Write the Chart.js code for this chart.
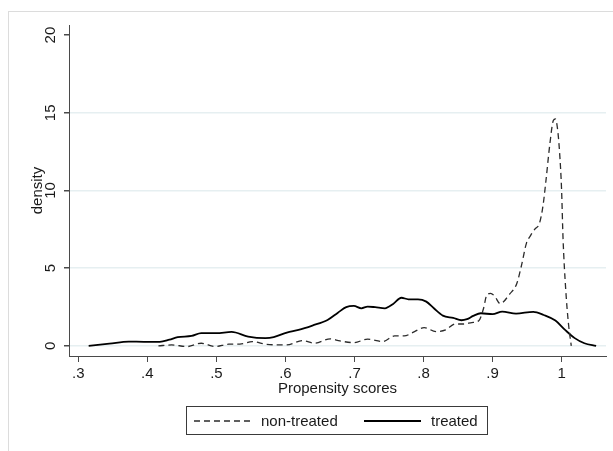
<!DOCTYPE html>
<html>
<head>
<meta charset="utf-8">
<script src="https://cdn.jsdelivr.net/npm/chart.js@4.4.1/dist/chart.umd.min.js"></script>
<style>
  html, body { margin: 0; padding: 0; background: #fff; }
  #wrap { width: 613px; height: 451px; position: relative; }
</style>
</head>
<body>
<div id="wrap"><canvas id="c" width="613" height="451"></canvas></div>
<script>
// Kernel density of propensity scores, by treatment group
const treatedX = [0.315, 0.345, 0.373, 0.395, 0.418, 0.432, 0.444, 0.464, 0.478, 0.500,
                  0.522, 0.546, 0.571, 0.583, 0.602, 0.619, 0.639, 0.661, 0.676, 0.688,
                  0.699, 0.710, 0.719, 0.730, 0.744, 0.756, 0.768, 0.778, 0.792, 0.804,
                  0.815, 0.828, 0.843, 0.855, 0.863, 0.872, 0.883, 0.900, 0.914, 0.934,
                  0.959, 0.974, 0.991, 1.005, 1.019, 1.033, 1.050];
const treatedY = [0.00, 0.14, 0.28, 0.26, 0.26, 0.40, 0.56, 0.64, 0.82, 0.82,
                  0.90, 0.60, 0.50, 0.56, 0.86, 1.03, 1.31, 1.67, 2.14, 2.49,
                  2.57, 2.42, 2.53, 2.49, 2.42, 2.70, 3.10, 3.00, 3.00, 2.85,
                  2.42, 1.95, 1.80, 1.65, 1.72, 1.93, 2.10, 2.04, 2.21, 2.08,
                  2.19, 1.99, 1.63, 1.03, 0.50, 0.17, 0.00];

const nonTreatedX = [0.416, 0.435, 0.458, 0.478, 0.498, 0.518, 0.534, 0.552, 0.571, 0.602,
                     0.625, 0.642, 0.665, 0.679, 0.699, 0.719, 0.741, 0.758, 0.772, 0.787,
                     0.801, 0.818, 0.832, 0.846, 0.858, 0.870, 0.880, 0.887, 0.891, 0.897,
                     0.903, 0.911, 0.925, 0.935, 0.942, 0.949, 0.955, 0.961, 0.968, 0.973,
                     0.977, 0.983, 0.988, 0.991, 0.994, 0.997, 1.000, 1.002, 1.006, 1.010,
                     1.014];
const nonTreatedY = [0.00, 0.06, -0.04, 0.17, -0.04, 0.11, 0.11, 0.28, 0.11, 0.06,
                     0.34, 0.17, 0.45, 0.32, 0.21, 0.43, 0.28, 0.64, 0.64, 0.92,
                     1.18, 0.92, 1.03, 1.41, 1.41, 1.50, 1.62, 2.42, 3.20, 3.38,
                     3.20, 2.72, 3.35, 4.00, 5.20, 6.60, 7.10, 7.50, 7.90, 9.00,
                     10.50, 13.00, 14.50, 14.60, 14.00, 12.50, 10.00, 7.00, 3.60, 1.40,
                     0.00];

const xTickValues = [0.3, 0.4, 0.5, 0.6, 0.7, 0.8, 0.9, 1.0];
const xTickLabels = ['.3', '.4', '.5', '.6', '.7', '.8', '.9', '1'];
const yTickValues = [0, 5, 10, 15, 20];
const yTickLabels = ['0', '5', '10', '15', '20'];

const seriesNames = ['non-treated', 'treated'];

const toPoints = (xs, ys) => xs.map((x, i) => ({ x: x, y: ys[i] }));

const FONT = "'Liberation Sans', Arial, sans-serif";
const INK = '#1a1a1a';
const AXIS = '#4a4a4a';
const GRID = '#e6eff1';

// White page with a faint outer frame
const framePlugin = {
  id: 'frame',
  beforeDraw(chart) {
    const ctx = chart.ctx;
    ctx.save();
    ctx.fillStyle = '#fff';
    ctx.fillRect(0, 0, chart.width, chart.height);
    ctx.strokeStyle = '#dcdcdc';
    ctx.lineWidth = 1;
    ctx.strokeRect(8.5, 11.5, chart.width + 20, chart.height + 20);
    ctx.restore();
  }
};

// Boxed legend under the x-axis title
const boxLegendPlugin = {
  id: 'boxLegend',
  afterDraw(chart) {
    const ctx = chart.ctx;
    const ds = chart.data.datasets;
    const box = { x: 186.5, y: 406.5, w: 301, h: 28 };
    const cy = box.y + box.h / 2 + 0.5;
    ctx.save();
    ctx.strokeStyle = '#3a3a3a';
    ctx.lineWidth = 1;
    ctx.strokeRect(box.x, box.y, box.w, box.h);

    const items = [
      { ds: ds[0], x0: 194, x1: 250, tx: 261 },
      { ds: ds[1], x0: 364, x1: 421, tx: 431 }
    ];
    ctx.font = '15px ' + FONT;
    ctx.textBaseline = 'middle';
    ctx.textAlign = 'left';
    items.forEach(it => {
      ctx.beginPath();
      ctx.setLineDash(it.ds.borderDash || []);
      ctx.strokeStyle = it.ds.borderColor;
      ctx.lineWidth = it.ds.borderWidth;
      ctx.moveTo(it.x0, cy);
      ctx.lineTo(it.x1, cy);
      ctx.stroke();
      ctx.setLineDash([]);
      ctx.fillStyle = INK;
      ctx.fillText(it.ds.label, it.tx, cy + 1);
    });
    ctx.restore();
  }
};

new Chart(document.getElementById('c'), {
  type: 'line',
  data: {
    datasets: [
      {
        label: seriesNames[0],
        data: toPoints(nonTreatedX, nonTreatedY),
        borderColor: '#2b2b2b',
        borderWidth: 1.3,
        borderDash: [6, 4],
        pointRadius: 0,
        fill: false,
        cubicInterpolationMode: 'monotone'
      },
      {
        label: seriesNames[1],
        data: toPoints(treatedX, treatedY),
        borderColor: '#000',
        borderWidth: 1.8,
        pointRadius: 0,
        fill: false,
        cubicInterpolationMode: 'monotone'
      }
    ]
  },
  options: {
    responsive: false,
    animation: false,
    events: [],
    layout: { padding: { top: 25, right: 7, bottom: 0, left: 0 } },
    plugins: {
      legend: { display: false },
      tooltip: { enabled: false }
    },
    scales: {
      x: {
        type: 'linear',
        min: 0.2865,
        max: 1.0643,
        afterFit(scale) { scale.height = 95; },
        afterBuildTicks(scale) { scale.ticks = xTickValues.map(v => ({ value: v })); },
        border: { display: true, color: AXIS, width: 1 },
        grid: { display: true, drawOnChartArea: false, drawTicks: true, tickLength: 6, tickColor: AXIS },
        ticks: {
          autoSkip: false,
          maxRotation: 0,
          minRotation: 0,
          padding: 3,
          color: INK,
          font: { family: FONT, size: 15 },
          callback: (v) => xTickLabels[xTickValues.indexOf(v)]
        },
        title: {
          display: true,
          text: 'Propensity scores',
          color: INK,
          font: { family: FONT, size: 15 },
          padding: { top: 0, bottom: 53 }
        }
      },
      y: {
        type: 'linear',
        min: -0.65,
        max: 20.65,
        afterFit(scale) { scale.width = 69; },
        afterBuildTicks(scale) { scale.ticks = yTickValues.map(v => ({ value: v })); },
        border: { display: true, color: AXIS, width: 1 },
        grid: {
          display: true,
          drawTicks: true,
          tickLength: 5,
          tickColor: AXIS,
          lineWidth: 1.5,
          color: (c) => (c.tick && c.tick.value === 20) ? 'rgba(0,0,0,0)' : GRID
        },
        ticks: {
          autoSkip: false,
          minRotation: 90,
          maxRotation: 90,
          crossAlign: 'center',
          padding: 5,
          color: INK,
          font: { family: FONT, size: 15 },
          callback: (v) => yTickLabels[yTickValues.indexOf(v)]
        },
        title: {
          display: true,
          text: 'density',
          color: INK,
          font: { family: FONT, size: 15 },
          padding: { top: 29, bottom: 0 }
        }
      }
    }
  },
  plugins: [framePlugin, boxLegendPlugin]
});
</script>
</body>
</html>
